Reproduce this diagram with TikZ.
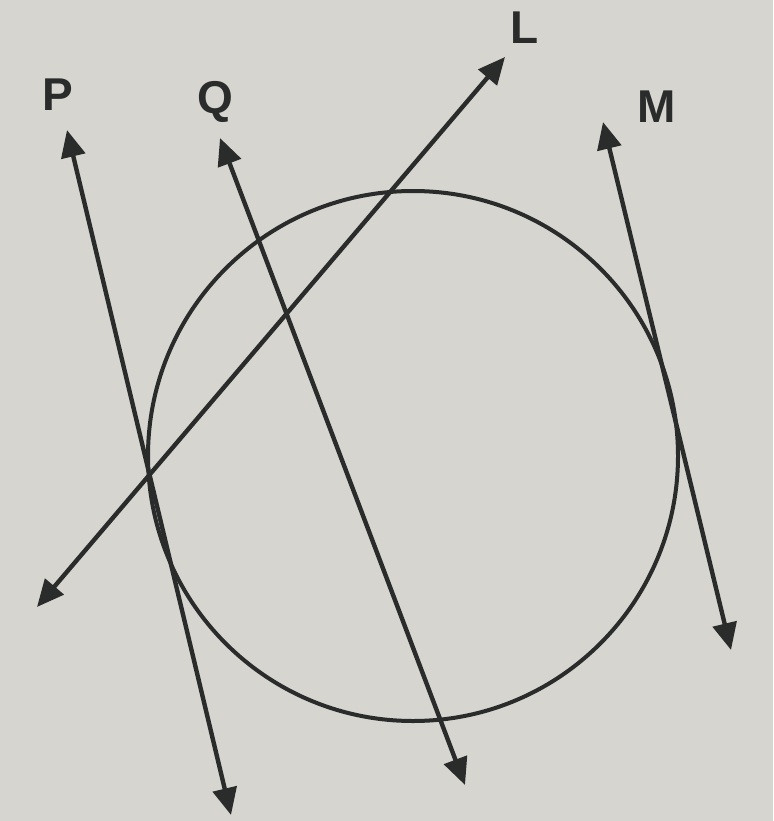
\documentclass[tikz,border=0pt]{standalone}
\usepackage{fontspec}
\setmainfont{Liberation Sans}
\usetikzlibrary{arrows.meta}
\definecolor{paper}{HTML}{D6D5D0}
\definecolor{ink}{HTML}{2A2B2B}
\begin{document}
\begin{tikzpicture}[x=1pt,y=-1pt,
  ln/.style={draw=ink,line width=4.4pt,{Triangle[length=27pt,width=24pt]}-{Triangle[length=27pt,width=24pt]}},
  lab/.style={text=ink,font=\fontsize{46}{48}\selectfont\bfseries,inner sep=0pt}]
\fill[paper] (0,0) rectangle (773,821);
\useasboundingbox (0,0) rectangle (773,821);
\node[circle,draw=ink,line width=4pt,minimum size=530pt,inner sep=0pt] (c) at (413,456) {};
\coordinate (p1) at (67,130); \coordinate (p2) at (231,815);
\coordinate (q1) at (220,138); \coordinate (q2) at (465,785);
\coordinate (l1) at (505,57); \coordinate (l2) at (37,607);
\coordinate (m1) at (603,122); \coordinate (m2) at (731,650);
\draw[ln] (p1) -- (p2);
\draw[ln] (q1) -- (q2);
\draw[ln] (l1) -- (l2);
\draw[ln] (m1) -- (m2);
\node[lab] (P) at (58,95) {P};
\node[lab] (Q) at (215,102) {Q};
\node[lab] (L) at (525,28) {L};
\node[lab] (M) at (657,107) {M};
\end{tikzpicture}
\end{document}
